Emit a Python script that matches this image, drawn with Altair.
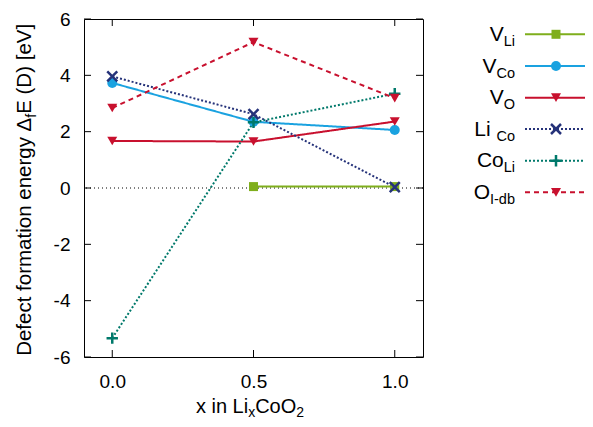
import altair as alt
import pandas as pd

# ---------------- data ----------------
x_vals = [0.0, 0.5, 1.0]
series_names = ["V_Li", "V_Co", "V_O", "Li_Co", "Co_Li", "O_I-db"]
V_Li = [None, 0.05, 0.05]
V_Co = [3.73, 2.35, 2.06]
V_O = [1.67, 1.65, 2.36]
Li_Co = [3.96, 2.62, 0.03]
Co_Li = [-5.33, 2.33, 3.35]
O_Idb = [2.84, 5.18, 3.19]
x_ticks = [0.0, 0.5, 1.0]
y_ticks = [-6, -4, -2, 0, 2, 4, 6]
legend_main = ["V", "V", "V", "Li ", "Co", "O"]
legend_sub = ["Li", "Co", "O", "Co", "Li", "I-db"]

values = [V_Li, V_Co, V_O, Li_Co, Co_Li, O_Idb]

# ---------------- styles ----------------
colors = ["#7fae1c", "#1aa2e0", "#c8102e", "#26337a", "#00796b", "#c8102e"]
dashes = [[1, 0], [1, 0], [1, 0], [2, 2], [2, 2], [5, 4]]
XPATH = "M-1,-1L1,1M-1,1L1,-1"
PPATH = "M-1,0L1,0M0,-1L0,1"
shapes = ["square", "circle", "triangle-down", XPATH, PPATH, "triangle-down"]
filled = [True, True, True, False, False, True]
sizes = [81, 100, 100, 100, 130, 100]

FONT = "Liberation Sans"
W, H = 339, 338
XDOM = [-0.1, 1.1]
YDOM = [-6, 6]

rows = []
for name, vals in zip(series_names, values):
    for xv, yv in zip(x_vals, vals):
        if yv is not None:
            rows.append({"series": name, "x": xv, "y": yv})
df = pd.DataFrame(rows)

xscale = alt.Scale(domain=XDOM, nice=False, zero=False)
yscale = alt.Scale(domain=YDOM, nice=False, zero=False)
xaxis = alt.Axis(values=x_ticks, labelExpr="format(datum.value, '.1f')", title=None,
                 grid=False, ticks=False, domain=False, labelFontSize=19,
                 labelFont=FONT, labelColor="black", labelPadding=15)
yaxis = alt.Axis(values=y_ticks, labelExpr="'' + datum.value", title=None,
                 grid=False, ticks=False, domain=False, labelFontSize=19,
                 labelFont=FONT, labelColor="black", labelPadding=14)

X = lambda f: alt.X(f, type="quantitative", scale=xscale, axis=xaxis)
Y = lambda f: alt.Y(f, type="quantitative", scale=yscale, axis=yaxis)

color_enc = alt.Color("series:N", scale=alt.Scale(domain=series_names, range=colors), legend=None)
dash_enc = alt.StrokeDash("series:N", scale=alt.Scale(domain=series_names, range=dashes), legend=None)

base = alt.Chart(df)

zero = alt.Chart(pd.DataFrame({"z": [0]})).mark_rule(
    color="black", strokeWidth=1, strokeDash=[1, 3]).encode(y=Y("z"))

lines = base.mark_line(strokeWidth=2).encode(x=X("x"), y=Y("y"), color=color_enc,
                                             strokeDash=dash_enc, order="x:Q")

point_layers = []
for i, name in enumerate(series_names):
    pl = base.transform_filter(alt.datum.series == name).mark_point(
        shape=shapes[i], filled=filled[i], size=sizes[i], color=colors[i],
        opacity=1, strokeWidth=2.5 if not filled[i] else 1,
    ).encode(x=X("x"), y=Y("y"))
    point_layers.append(pl)

# inward ticks (gnuplot style, mirrored)
TL = 7
yt = pd.DataFrame({"t": y_ticks})
xt = pd.DataFrame({"t": x_ticks})
tick_layers = [
    alt.Chart(yt).mark_rule(color="black", strokeWidth=1).encode(y=Y("t"), x=alt.value(0), x2=alt.value(TL)),
    alt.Chart(yt).mark_rule(color="black", strokeWidth=1).encode(y=Y("t"), x=alt.value(W - TL), x2=alt.value(W)),
    alt.Chart(xt).mark_rule(color="black", strokeWidth=1).encode(x=X("t"), y=alt.value(H), y2=alt.value(H - TL)),
    alt.Chart(xt).mark_rule(color="black", strokeWidth=1).encode(x=X("t"), y=alt.value(0), y2=alt.value(TL)),
]

# text width table (Arial / Liberation Sans metrics, em units)
CW = {" ": .278, "(": .333, ")": .333, "[": .278, "]": .278, "-": .333, ".": .278,
      "A": .667, "C": .722, "D": .722, "E": .667, "I": .278, "L": .556, "O": .778,
      "V": .667, "a": .556, "b": .556, "c": .5, "d": .556, "e": .556, "f": .278,
      "g": .556, "i": .222, "m": .833, "n": .556, "o": .556, "r": .333, "t": .278,
      "x": .5, "y": .5, "\u0394": .668, "2": .556}


def tw(s, size):
    return sum(CW.get(c, .556) for c in s) * size


one = alt.Data(values=[{"a": 1}])


def txt(text, x, y, size, align="left", angle=0):
    kw = dict(text=text, fontSize=size, font=FONT, color="black", align=align,
              baseline="alphabetic")
    if angle:
        kw["angle"] = angle
    return alt.Chart(one).mark_text(**kw).encode(x=alt.value(x), y=alt.value(y))


MAIN, SUB, SHIFT = 20, 14, 5
LMAIN, LSUB = 21, 14.5
text_layers = []

# legend
LX_END = 431
row_y = [15.3, 47.0, 78.7, 110.0, 141.7, 173.3]
for i in range(len(series_names)):
    ry = row_y[i]
    mw = tw(legend_main[i], LMAIN)
    sw = tw(legend_sub[i], LSUB)
    x0 = LX_END - mw - sw
    text_layers.append(txt(legend_main[i], x0, ry + 6.5, LMAIN))
    text_layers.append(txt(legend_sub[i], x0 + mw, ry + 6.5 + SHIFT, LSUB))
    text_layers.append(alt.Chart(one).mark_rule(color=colors[i], strokeWidth=2,
                                                strokeDash=dashes[i]).encode(
        x=alt.value(441), x2=alt.value(501), y=alt.value(ry)))
    text_layers.append(alt.Chart(one).mark_point(
        shape=shapes[i], filled=filled[i], size=sizes[i], color=colors[i], opacity=1,
        strokeWidth=2.5 if not filled[i] else 1).encode(x=alt.value(472), y=alt.value(ry)))

# x title: x in Li_x CoO_2
xt_pieces = [("x in Li", MAIN, 0), ("x", SUB, 4), ("CoO", MAIN, 0), ("2", SUB, 4)]
total = sum(tw(p, s) for p, s, _ in xt_pieces)
cx = 166 - total / 2
for p, s, d in xt_pieces:
    text_layers.append(txt(p, cx, 394 + d, s))
    cx += tw(p, s)

# y title: Defect formation energy Δ_f E (D) [eV]
yt_pieces = [("Defect formation energy \u0394", 20.5, 0), ("f", SUB, SHIFT), (" E (D) [eV]", 20.5, 0)]
total = sum(tw(p, s) for p, s, _ in yt_pieces)
cy = 168 + total / 2
for p, s, d in yt_pieces:
    text_layers.append(txt(p, -53 + d, cy, s, angle=270))
    cy -= tw(p, s)

chart = alt.layer(zero, lines, *point_layers, *tick_layers, *text_layers).properties(
    width=W, height=H,
    padding={"left": 76, "top": 11, "right": 162, "bottom": 62},
    autosize=alt.AutoSizeParams(type="none"),
).configure_view(stroke="black", strokeWidth=1)

chart.save("out.html", embed_options={"renderer": "svg", "actions": False})
